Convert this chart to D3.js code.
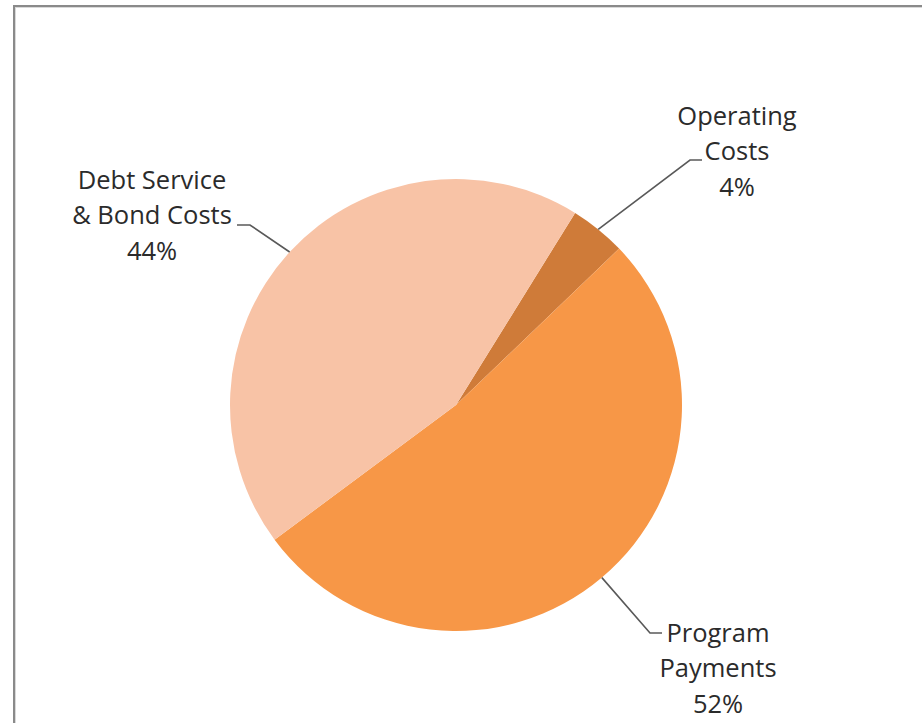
<!DOCTYPE html>
<html>
<head>
<meta charset="utf-8">
<script src="https://cdn.jsdelivr.net/npm/d3@7"></script>
<style>
  html, body { margin: 0; padding: 0; background: #fff; }
  svg { display: block; }
</style>
</head>
<body>
<svg id="chart" width="922" height="723"></svg>
<script>
// Budget shares, in slice order (clockwise from the first slice)
const categories = ["Operating Costs", "Program Payments", "Debt Service & Bond Costs"];
const shares = [4, 52, 44];
const labelLines = [
  ["Operating", "Costs", "4%"],
  ["Program", "Payments", "52%"],
  ["Debt Service", "& Bond Costs", "44%"]
];
const colors = ["#CF7B39", "#F79747", "#F8C3A6"];

const svg = d3.select("#chart");
const cx = 456, cy = 405, r = 226;
const startDeg = 31.8;

// chart frame
svg.append("rect")
  .attr("x", 15).attr("y", 7).attr("width", 930).attr("height", 740)
  .attr("fill", "none").attr("stroke", "#d9d9d9").attr("stroke-width", 2);
svg.append("rect")
  .attr("x", 14).attr("y", 6).attr("width", 930).attr("height", 740)
  .attr("fill", "none").attr("stroke", "#8a8a8a").attr("stroke-width", 2);

const pie = d3.pie()
  .sort(null)
  .value(d => d)
  .startAngle(startDeg * Math.PI / 180)
  .endAngle((startDeg + 360) * Math.PI / 180);

const arc = d3.arc().innerRadius(0).outerRadius(r);
const arcs = pie(shares);

const g = svg.append("g").attr("transform", `translate(${cx},${cy})`);
g.selectAll("path.slice")
  .data(arcs)
  .join("path")
  .attr("class", "slice")
  .attr("d", arc)
  .attr("fill", (d, i) => colors[i]);

// label placement: text block centre and leader elbow relative to the pie centre
const labelPos = [
  { x: 281, y: -254, elbowX: 234, elbowY: -245, side: "right" },
  { x: 262, y: 263, elbowX: 194, elbowY: 228, side: "right" },
  { x: -304, y: -190, elbowX: -206, elbowY: -180, side: "left" }
];
const lineH = 35.5;

arcs.forEach((d, i) => {
  const p = labelPos[i];
  const mid = (d.startAngle + d.endAngle) / 2;
  const ex = Math.sin(mid) * r, ey = -Math.cos(mid) * r;
  const tail = p.side === "right" ? 12 : -13;
  g.append("path")
    .attr("d", `M${ex},${ey}L${p.elbowX},${p.elbowY}L${p.elbowX + tail},${p.elbowY}`)
    .attr("fill", "none")
    .attr("stroke", "#595959")
    .attr("stroke-width", 1.6);

  const lines = labelLines[i];
  const t = g.append("text")
    .attr("text-anchor", "middle")
    .attr("font-family", "'Open Sans', Lato, sans-serif")
    .attr("font-size", 25.5)
    .attr("fill", "#2b2b2b");
  lines.forEach((s, k) => {
    t.append("tspan")
      .attr("x", p.x)
      .attr("y", p.y + (k - (lines.length - 1) / 2) * lineH)
      .attr("dy", "0.36em")
      .text(s);
  });
});
</script>
</body>
</html>
